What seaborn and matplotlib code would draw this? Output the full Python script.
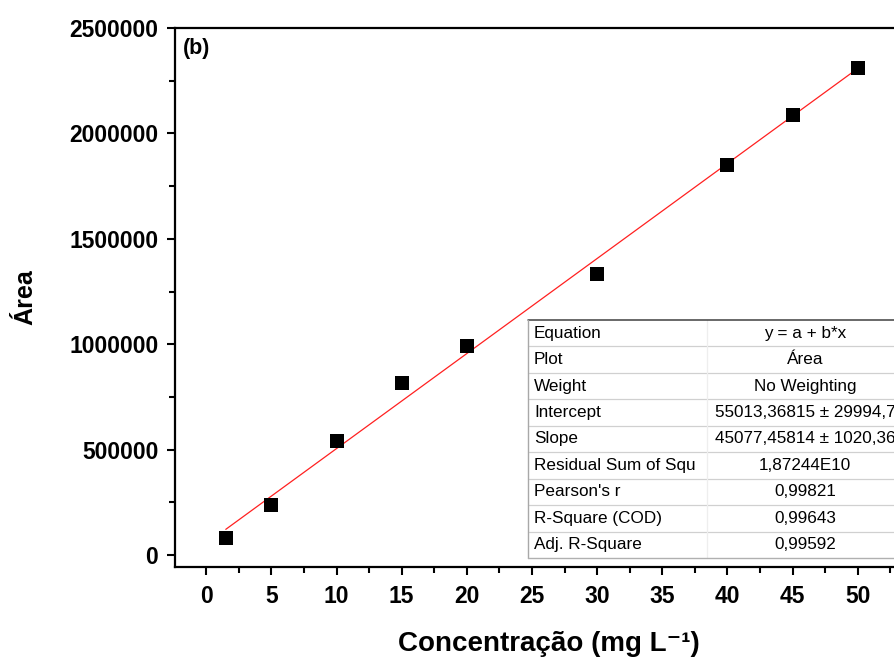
import matplotlib
matplotlib.use("Agg")
import matplotlib.pyplot as plt
import seaborn as sns
import pandas as pd
from matplotlib.patches import Rectangle
from matplotlib.lines import Line2D

# ---- data ----
concentracao = [1.5, 5, 10, 15, 20, 30, 40, 45, 50]
area = [80500, 236000, 543000, 815000, 990000, 1333000, 1850000, 2088000, 2312000]

x_ticks = [0, 5, 10, 15, 20, 25, 30, 35, 40, 45, 50]
y_ticks = [0, 500000, 1000000, 1500000, 2000000, 2500000]

table_labels = ["Equation", "Plot", "Weight", "Intercept", "Slope",
                "Residual Sum of Squ", "Pearson's r", "R-Square (COD)", "Adj. R-Square"]
table_values = ["y = a + b*x", "Área", "No Weighting", "55013,36815 ± 29994,7",
                "45077,45814 ± 1020,36", "1,87244E10", "0,99821", "0,99643", "0,99592"]

df = pd.DataFrame({"Concentracao": concentracao, "Area": area})

sns.set_theme(style="ticks")
plt.rcParams['font.family'] = ['Liberation Sans', 'DejaVu Sans']
plt.rcParams['text.color'] = 'black'
plt.rcParams['axes.labelcolor'] = 'black'
plt.rcParams['xtick.color'] = 'black'
plt.rcParams['ytick.color'] = 'black'

fig = plt.figure(figsize=(8.94, 6.59), dpi=100)
ax = fig.add_axes([0.1957, 0.1401, 0.8365, 0.8174])

sns.regplot(data=df, x="Concentracao", y="Area", ax=ax, ci=None, truncate=True,
            scatter=False, line_kws=dict(color="#ff2020", lw=0.9, zorder=2))
sns.scatterplot(data=df, x="Concentracao", y="Area", ax=ax, marker="s", s=95,
                color="black", edgecolor="black", linewidth=0, zorder=5)

ax.set_xlim(-2.4, 55)
ax.set_ylim(-55000, 2500000)
ax.set_xticks(x_ticks)
ax.set_xticklabels([str(t) for t in x_ticks])
ax.set_yticks(y_ticks)
ax.set_yticklabels([str(t) for t in y_ticks])
ax.set_xticks([t + 2.5 for t in x_ticks], minor=True)
ax.set_yticks([t + 250000 for t in y_ticks[:-1]], minor=True)

for lbl in ax.get_xticklabels() + ax.get_yticklabels():
    lbl.set_fontweight("bold")
    lbl.set_fontsize(16.5)
    lbl.set_color("black")

ax.tick_params(which="major", direction="out", length=6, width=1.5, color="black", pad=6)
ax.tick_params(which="minor", direction="out", length=4, width=1.5, color="black")
ax.tick_params(axis="x", which="major", pad=7)

for side in ["left", "bottom", "top", "right"]:
    ax.spines[side].set_linewidth(1.6)
    ax.spines[side].set_color("black")

ax.set_xlabel("Concentração (mg L⁻¹)", fontsize=20, fontweight="bold", labelpad=17,
              color="black", family=['Liberation Sans', 'DejaVu Sans'])
ax.set_ylabel("Área", fontsize=18, fontweight="bold", labelpad=23, color="black")

ax.text(0.011, 0.982, "(b)", transform=ax.transAxes, fontsize=15.5, fontweight="bold",
        ha="left", va="top", color="black")

# ---- statistics table ----
x0, xs, x1 = 0.4721, 0.7114, 0.9735
ytop, ybot = 0.4580, 0.0162
n = len(table_labels)
rh = (ytop - ybot) / n
ax.add_patch(Rectangle((x0, ybot), x1 - x0, ytop - ybot, transform=ax.transAxes,
                       facecolor="white", edgecolor="none", zorder=6, clip_on=False))
for i in range(1, n):
    yy = ytop - i * rh
    ax.add_line(Line2D([x0, x1], [yy, yy], transform=ax.transAxes, color="#d0d0d0",
                       lw=0.9, zorder=7, clip_on=False))
ax.add_line(Line2D([xs, xs], [ybot, ytop], transform=ax.transAxes, color="#eeeeee",
                   lw=0.9, zorder=7, clip_on=False))
ax.add_line(Line2D([x0, x1], [ytop, ytop], transform=ax.transAxes, color="#404040",
                   lw=1.1, zorder=8, clip_on=False))
ax.add_line(Line2D([x0, x0], [ybot, ytop], transform=ax.transAxes, color="#a8a8a8",
                   lw=1.0, zorder=8, clip_on=False))
ax.add_line(Line2D([x0, x1], [ybot, ybot], transform=ax.transAxes, color="#b0b0b0",
                   lw=1.0, zorder=8, clip_on=False))
for i, (lab, val) in enumerate(zip(table_labels, table_values)):
    yc = ytop - (i + 0.5) * rh
    ax.text(x0 + 0.008, yc, lab, transform=ax.transAxes, fontsize=12.3, ha="left",
            va="center", zorder=9, color="black")
    ax.text((xs + x1) / 2, yc, val, transform=ax.transAxes, fontsize=12.3, ha="center",
            va="center", zorder=9, color="black")

fig.savefig("out.png", dpi=100)
